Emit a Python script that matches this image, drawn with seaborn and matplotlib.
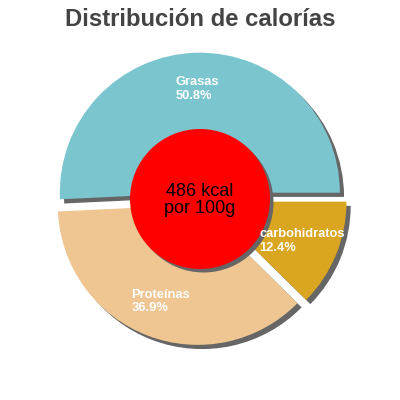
import matplotlib
matplotlib.use("Agg")
import matplotlib.pyplot as plt
import seaborn as sns

sns.set_theme(style="white")
plt.rcParams['font.family'] = ['Liberation Sans', 'DejaVu Sans']

# Data
categories = ["Grasas", "Proteínas", "carbohidratos"]
percentages = [50.8, 36.9, 12.4]
colors = ["#7bc5ce", "#efc692", "#daa520"]
title = "Distribución de calorías"
center_text = "486 kcal\npor 100g"

explode = [0.045, 0.045, 0.05]
shadow_off = 0.03
shadow_col = "#666666"

fig = plt.figure(figsize=(4, 4), dpi=100)
ax = fig.add_axes([0, 0, 1, 1])
ax.set_aspect("equal")
half = 200 / 140
ax.axis("off")

# shadow pie
ax.pie(percentages, explode=explode, startangle=0, counterclock=True,
       colors=[shadow_col] * len(percentages), center=(shadow_off, -shadow_off),
       wedgeprops=dict(linewidth=0))
# main pie
labels = [f"{c}\n{p:.1f}%" for c, p in zip(categories, percentages)]
wedges, texts = ax.pie(percentages, explode=explode, startangle=0, counterclock=True,
                       colors=colors, labels=labels, labeldistance=0.74,
                       wedgeprops=dict(linewidth=0),
                       textprops=dict(color="white", fontsize=9.3, fontweight="bold"))
for t in texts:
    t.set_ha("center")
    t.set_va("center")
    t.set_multialignment("left")
    t.set_linespacing(1.15)

# center circle with shadow
ax.pie([1], radius=0.5, colors=[shadow_col], center=(0.025, -0.025),
       wedgeprops=dict(linewidth=0))
ax.pie([1], radius=0.5, colors=["#ff0000"], wedgeprops=dict(linewidth=0))
ax.text(0, -0.01, center_text, ha="center", va="center", fontsize=13,
        color="black", linespacing=1.0)

ax.set_xlim(-half, half)
ax.set_ylim(-half - 1 / 140, half - 1 / 140)

fig.text(0.5, 1 - 19 / 400, title, ha="center", va="center", fontsize=17.2,
         fontweight="bold", color="#444444")

fig.savefig("out.png", dpi=100)
